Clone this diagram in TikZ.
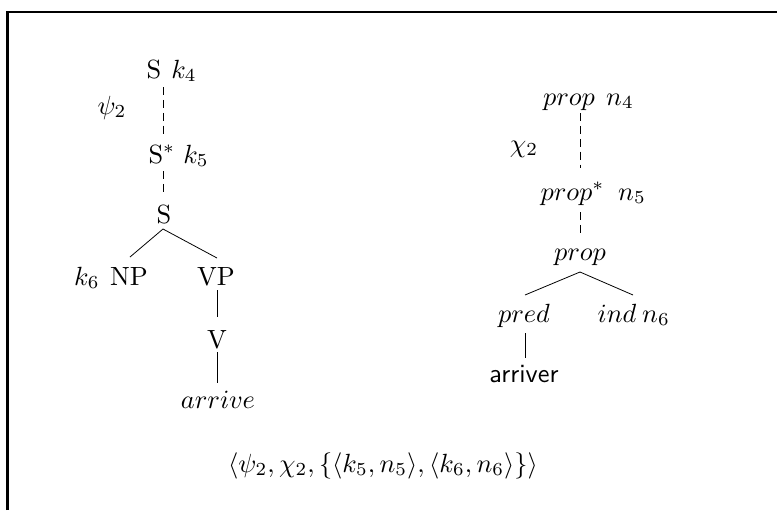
\documentclass[tikz,border=0pt]{standalone}
\usetikzlibrary{calc}
\begin{document}
\begin{tikzpicture}[x=0.38pt,y=-0.38pt,
  every node/.style={inner sep=0pt, anchor=base},
  dashln/.style={dash pattern=on 3pt off 1.9pt, line width=0.3pt},
  edgeln/.style={line width=0.3pt},
  frameln/.style={line width=0.8pt}]
\useasboundingbox (0,0) rectangle (777,510);
\draw[frameln] (7.5,510) -- (7.5,12) -- (777,12);
% left tree
\node (St) at (154,78) {S};
\node (k4) at (184,78) {$k_4$};
\node (psi) at (112,114) {$\psi_2$};
\node[anchor=base west] (Ss) at (148,163) {S$^*$};
\node (k5) at (196,163) {$k_5$};
\node (Sm) at (164,223) {S};
\node (k6) at (87,285) {$k_6$};
\node (NP) at (129,285) {NP};
\node (VP) at (216,285) {VP};
\node (V) at (217,348) {V};
\node (arr) at (218,408) {$arrive$};
\draw[dashln] ($(Sm.base |- St.base)+(-1,9)$) -- ($(Sm.base |- Ss.base)+(-1,-26)$);
\draw[dashln] ($(Sm.base |- Ss.base)+(-1,8)$) -- ($(Sm.base)+(-1,-28)$);
\draw[edgeln] ($(Sm.base)+(-1,6)$) -- ($(NP.base)+(1,-28)$);
\draw[edgeln] ($(Sm.base)+(-1,6)$) -- ($(VP.base)+(1,-27)$);
\draw[edgeln] ($(VP.base)+(1,5)$) -- ($(V.base)+(0,-31)$);
\draw[edgeln] ($(V.base)+(0,4)$) -- ($(arr.base)+(-1,-25)$);
% right tree
\node (Pt) at (569,105) {$prop$};
\node (n4) at (620,105) {$n_4$};
\node (chi) at (524,152) {$\chi_2$};
\node[anchor=base west] (Ps) at (540,200) {$prop^*$};
\node (n5) at (632,200) {$n_5$};
\node (Pm) at (580,260) {$prop$};
\node (pred) at (524,322) {$pred$};
\node (ind) at (617,322) {$ind$};
\node (n6) at (656,322) {$n_6$};
\node (arv) at (524,382) {\sffamily arriver};
\draw[dashln] ($(Pm.base |- Pt.base)+(0,8)$) -- ($(Pm.base |- Ps.base)+(0,-32)$);
\draw[dashln] ($(Pm.base |- Ps.base)+(0,12)$) -- ($(Pm.base)+(0,-27)$);
\draw[edgeln] ($(Pm.base)+(0,12)$) -- ($(pred.base)+(1,-27)$);
\draw[edgeln] ($(Pm.base)+(0,12)$) -- ($(ind.base)+(16,-27)$);
\draw[edgeln] ($(pred.base)+(1,11)$) -- ($(arv.base)+(1,-24)$);
% formula
\node (form) at (383,472) {$\langle\psi_2, \chi_2, \{\langle k_5, n_5\rangle, \langle k_6, n_6\rangle\}\rangle$};
\end{tikzpicture}
\end{document}
